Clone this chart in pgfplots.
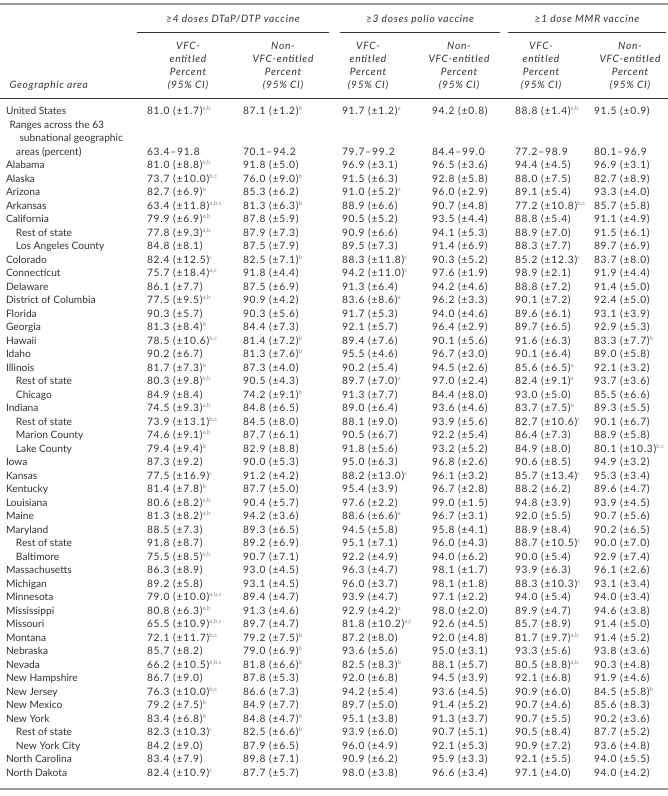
\documentclass[border=0pt]{standalone}
\usepackage{fontspec}
\setmainfont{Lato}
\newfontfamily\valfont{Lato}[LetterSpace=8]
\newfontfamily\hdfont{Lato}[LetterSpace=7]
\usepackage{pgfplots}
\usepackage{pgfplotstable}
\pgfplotsset{compat=1.18}
\definecolor{rulegray}{gray}{0.6}
\definecolor{txt}{gray}{0.2}
\protected\def\su#1{\raisebox{3.6pt}{\rmfamily\fontsize{6.2}{6}\selectfont\textcolor{black!45}{#1}}}
\newcommand\hf{\fontsize{10.2}{12}\selectfont}
\newcommand\vf{\valfont\fontsize{10.2}{12}\selectfont}
\newcommand\hdf{\hdfont\fontsize{10.2}{12}\selectfont\itshape}

\pgfplotstableread[col sep=semicolon]{
y;ind;lab;c1;c2;c3;c4;c5;c6
111;0;United States;{81.0 (±1.7)\su{a,b}};{87.1 (±1.2)\su{b}};{91.7 (±1.2)\su{a}};{94.2 (±0.8)};{88.8 (±1.4)\su{a,b}};{91.5 (±0.9)}
151.5;1;areas (percent);{63.4–91.8};{70.1–94.2};{79.7–99.2};{84.4–99.0};{77.2–98.9};{80.1–96.9}
}\toptab

\pgfplotstableread[col sep=semicolon]{
ind;lab;c1;c2;c3;c4;c5;c6
0;Alabama;{81.0 (±8.8)\su{a,b}};{91.8 (±5.0)};{96.9 (±3.1)};{96.5 (±3.6)};{94.4 (±4.5)};{96.9 (±3.1)}
0;Alaska;{73.7 (±10.0)\su{b,c}};{76.0 (±9.0)\su{b}};{91.5 (±6.3)};{92.8 (±5.8)};{88.0 (±7.5)};{82.7 (±8.9)}
0;Arizona;{82.7 (±6.9)\su{b}};{85.3 (±6.2)};{91.0 (±5.2)\su{a}};{96.0 (±2.9)};{89.1 (±5.4)};{93.3 (±4.0)}
0;Arkansas;{63.4 (±11.8)\su{a,b,c}};{81.3 (±6.3)\su{b}};{88.9 (±6.6)};{90.7 (±4.8)};{77.2 (±10.8)\su{b,c}};{85.7 (±5.8)}
0;California;{79.9 (±6.9)\su{a,b}};{87.8 (±5.9)};{90.5 (±5.2)};{93.5 (±4.4)};{88.8 (±5.4)};{91.1 (±4.9)}
1;Rest of state;{77.8 (±9.3)\su{a,b}};{87.9 (±7.3)};{90.9 (±6.6)};{94.1 (±5.3)};{88.9 (±7.0)};{91.5 (±6.1)}
1;Los Angeles County;{84.8 (±8.1)};{87.5 (±7.9)};{89.5 (±7.3)};{91.4 (±6.9)};{88.3 (±7.7)};{89.7 (±6.9)}
0;Colorado;{82.4 (±12.5)\su{c}};{82.5 (±7.1)\su{b}};{88.3 (±11.8)\su{c}};{90.3 (±5.2)};{85.2 (±12.3)\su{c}};{83.7 (±8.0)}
0;Connecticut;{75.7 (±18.4)\su{a,c}};{91.8 (±4.4)};{94.2 (±11.0)\su{c}};{97.6 (±1.9)};{98.9 (±2.1)};{91.9 (±4.4)}
0;Delaware;{86.1 (±7.7)};{87.5 (±6.9)};{91.3 (±6.4)};{94.2 (±4.6)};{88.8 (±7.2)};{91.4 (±5.0)}
0;District of Columbia;{77.5 (±9.5)\su{a,b}};{90.9 (±4.2)};{83.6 (±8.6)\su{a}};{96.2 (±3.3)};{90.1 (±7.2)};{92.4 (±5.0)}
0;Florida;{90.3 (±5.7)};{90.3 (±5.6)};{91.7 (±5.3)};{94.0 (±4.6)};{89.6 (±6.1)};{93.1 (±3.9)}
0;Georgia;{81.3 (±8.4)\su{b}};{84.4 (±7.3)};{92.1 (±5.7)};{96.4 (±2.9)};{89.7 (±6.5)};{92.9 (±5.3)}
0;Hawaii;{78.5 (±10.6)\su{b,c}};{81.4 (±7.2)\su{b}};{89.4 (±7.6)};{90.1 (±5.6)};{91.6 (±6.3)};{83.3 (±7.7)\su{b}}
0;Idaho;{90.2 (±6.7)};{81.3 (±7.6)\su{b}};{95.5 (±4.6)};{96.7 (±3.0)};{90.1 (±6.4)};{89.0 (±5.8)}
0;Illinois;{81.7 (±7.3)\su{b}};{87.3 (±4.0)};{90.2 (±5.4)};{94.5 (±2.6)};{85.6 (±6.5)\su{a}};{92.1 (±3.2)}
1;Rest of state;{80.3 (±9.8)\su{a,b}};{90.5 (±4.3)};{89.7 (±7.0)\su{a}};{97.0 (±2.4)};{82.4 (±9.1)\su{a}};{93.7 (±3.6)}
1;Chicago;{84.9 (±8.4)};{74.2 (±9.1)\su{b}};{91.3 (±7.7)};{84.4 (±8.0)};{93.0 (±5.0)};{85.5 (±6.6)}
0;Indiana;{74.5 (±9.3)\su{a,b}};{84.8 (±6.5)};{89.0 (±6.4)};{93.6 (±4.6)};{83.7 (±7.5)\su{b}};{89.3 (±5.5)}
1;Rest of state;{73.9 (±13.1)\su{b,c}};{84.5 (±8.0)};{88.1 (±9.0)};{93.9 (±5.6)};{82.7 (±10.6)\su{c}};{90.1 (±6.7)}
1;Marion County;{74.6 (±9.1)\su{a,b}};{87.7 (±6.1)};{90.5 (±6.7)};{92.2 (±5.4)};{86.4 (±7.3)};{88.9 (±5.8)}
1;Lake County;{79.4 (±9.4)\su{b}};{82.9 (±8.8)};{91.8 (±5.6)};{93.2 (±5.2)};{84.9 (±8.0)};{80.1 (±10.3)\su{b,c}}
0;Iowa;{87.3 (±9.2)};{90.0 (±5.3)};{95.0 (±6.3)};{96.8 (±2.6)};{90.6 (±8.5)};{94.9 (±3.2)}
0;Kansas;{77.5 (±16.9)\su{c}};{91.2 (±4.2)};{88.2 (±13.0)\su{c}};{96.1 (±3.2)};{85.7 (±13.4)\su{c}};{95.3 (±3.4)}
0;Kentucky;{81.4 (±7.8)\su{b}};{87.7 (±5.0)};{95.4 (±3.9)};{96.7 (±2.8)};{88.2 (±6.2)};{89.6 (±4.7)}
0;Louisiana;{80.6 (±8.2)\su{a,b}};{90.4 (±5.7)};{97.6 (±2.2)};{99.0 (±1.5)};{94.8 (±3.9)};{93.9 (±4.5)}
0;Maine;{81.3 (±8.2)\su{a,b}};{94.2 (±3.6)};{88.6 (±6.6)\su{a}};{96.7 (±3.1)};{92.0 (±5.5)};{90.7 (±5.6)}
0;Maryland;{88.5 (±7.3)};{89.3 (±6.5)};{94.5 (±5.8)};{95.8 (±4.1)};{88.9 (±8.4)};{90.2 (±6.5)}
1;Rest of state;{91.8 (±8.7)};{89.2 (±6.9)};{95.1 (±7.1)};{96.0 (±4.3)};{88.7 (±10.5)\su{c}};{90.0 (±7.0)}
1;Baltimore;{75.5 (±8.5)\su{a,b}};{90.7 (±7.1)};{92.2 (±4.9)};{94.0 (±6.2)};{90.0 (±5.4)};{92.9 (±7.4)}
0;Massachusetts;{86.3 (±8.9)};{93.0 (±4.5)};{96.3 (±4.7)};{98.1 (±1.7)};{93.9 (±6.3)};{96.1 (±2.6)}
0;Michigan;{89.2 (±5.8)};{93.1 (±4.5)};{96.0 (±3.7)};{98.1 (±1.8)};{88.3 (±10.3)\su{c}};{93.1 (±3.4)}
0;Minnesota;{79.0 (±10.0)\su{a,b,c}};{89.4 (±4.7)};{93.9 (±4.7)};{97.1 (±2.2)};{94.0 (±5.4)};{94.0 (±3.4)}
0;Mississippi;{80.8 (±6.3)\su{a,b}};{91.3 (±4.6)};{92.9 (±4.2)\su{a}};{98.0 (±2.0)};{89.9 (±4.7)};{94.6 (±3.8)}
0;Missouri;{65.5 (±10.9)\su{a,b,c}};{89.7 (±4.7)};{81.8 (±10.2)\su{a,c}};{92.6 (±4.5)};{85.7 (±8.9)};{91.4 (±5.0)}
0;Montana;{72.1 (±11.7)\su{b,c}};{79.2 (±7.5)\su{b}};{87.2 (±8.0)};{92.0 (±4.8)};{81.7 (±9.7)\su{a,b}};{91.4 (±5.2)}
0;Nebraska;{85.7 (±8.2)};{79.0 (±6.9)\su{b}};{93.6 (±5.6)};{95.0 (±3.1)};{93.3 (±5.6)};{93.8 (±3.6)}
0;Nevada;{66.2 (±10.5)\su{a,b,c}};{81.8 (±6.6)\su{b}};{82.5 (±8.3)\su{b}};{88.1 (±5.7)};{80.5 (±8.8)\su{a,b}};{90.3 (±4.8)}
0;New Hampshire;{86.7 (±9.0)};{87.8 (±5.3)};{92.0 (±6.8)};{94.5 (±3.9)};{92.1 (±6.8)};{91.9 (±4.6)}
0;New Jersey;{76.3 (±10.0)\su{b,c}};{86.6 (±7.3)};{94.2 (±5.4)};{93.6 (±4.5)};{90.9 (±6.0)};{84.5 (±5.8)\su{b}}
0;New Mexico;{79.2 (±7.5)\su{b}};{84.9 (±7.7)};{89.7 (±5.0)};{91.4 (±5.2)};{90.7 (±4.6)};{85.6 (±8.3)}
0;New York;{83.4 (±6.8)\su{b}};{84.8 (±4.7)\su{b}};{95.1 (±3.8)};{91.3 (±3.7)};{90.7 (±5.5)};{90.2 (±3.6)}
1;Rest of state;{82.3 (±10.3)\su{c}};{82.5 (±6.6)\su{b}};{93.9 (±6.0)};{90.7 (±5.1)};{90.5 (±8.4)};{87.7 (±5.2)}
1;New York City;{84.2 (±9.0)};{87.9 (±6.5)};{96.0 (±4.9)};{92.1 (±5.3)};{90.9 (±7.2)};{93.6 (±4.8)}
0;North Carolina;{83.4 (±7.9)};{89.8 (±7.1)};{90.9 (±6.2)};{95.9 (±3.3)};{92.1 (±5.5)};{94.0 (±5.5)}
0;North Dakota;{82.4 (±10.9)\su{c}};{87.7 (±5.7)};{98.0 (±3.8)};{96.6 (±3.4)};{97.1 (±4.0)};{94.0 (±4.2)}
}\maintab

\newcommand\ystart{165}
\newcommand\ystep{13.5}
\newcommand\colhead[3]{%
  \node[anchor=base, text=txt, font=\hdf] at (axis cs:#1,49) {#2};
  \node[anchor=base, text=txt, font=\hdf] at (axis cs:#1,62) {#3};
  \node[anchor=base, text=txt, font=\hdf] at (axis cs:#1,75) {Percent};
  \node[anchor=base, text=txt, font=\hdf] at (axis cs:#1,88) {(95\% CI)};
}

\begin{document}
\begin{tikzpicture}
\begin{axis}[
  scale only axis, width=668pt, height=796pt,
  xmin=0, xmax=668, ymin=0, ymax=796, y dir=reverse,
  axis lines=none, clip=false,
  every node near coord/.style={anchor=base west, inner sep=0pt, outer sep=0pt,
     font=\vf, text=txt},
  txtplot/.style={draw=none, mark=none, nodes near coords, point meta=explicit symbolic},
  labplot/.style={draw=none, mark=none, nodes near coords, point meta=explicit symbolic,
     every node near coord/.append style={font=\hf}},
  font=\hf,
]
% rules
\draw[rulegray, line width=1.6pt] (axis cs:0,4) -- (axis cs:668,4);
\draw[rulegray, line width=2.2pt] (axis cs:0,789) -- (axis cs:668,789);
\draw[txt, line width=0.45pt] (axis cs:137,32) -- (axis cs:329,32);
\draw[txt, line width=0.45pt] (axis cs:340,32) -- (axis cs:500,32);
\draw[txt, line width=0.45pt] (axis cs:508,32) -- (axis cs:666,32);
\draw[txt, line width=0.45pt] (axis cs:0,98) -- (axis cs:668,98);
% headers
\node[anchor=base, text=txt, font=\hdf] at (axis cs:233,22.5) {≥4 doses DTaP/DTP vaccine};
\node[anchor=base, text=txt, font=\hdf] at (axis cs:420,22.5) {≥3 doses polio vaccine};
\node[anchor=base, text=txt, font=\hdf] at (axis cs:587,22.5) {≥1 dose MMR vaccine};
\colhead{188}{VFC-}{entitled}
\colhead{283}{Non-}{VFC-entitled}
\colhead{368}{VFC-}{entitled}
\colhead{459}{Non-}{VFC-entitled}
\colhead{541}{VFC-}{entitled}
\colhead{630}{Non-}{VFC-entitled}
\node[anchor=base west, text=txt, font=\hdf] at (axis cs:6,88) {Geographic area};
\node[anchor=base west, text=txt, font=\hf] at (axis cs:6,128) {Ranges across the 63};
\node[anchor=base west, text=txt, font=\hf] at (axis cs:16,141.5) {subnational geographic};
% top rows
\addplot[labplot] table[x expr={6+10*\thisrow{ind}}, y expr={\thisrow{y}+3.5}, meta=lab] {\toptab};
\addplot[txtplot] table[x expr=147, y expr={\thisrow{y}+3.5}, meta=c1] {\toptab};
\addplot[txtplot] table[x expr=243, y expr={\thisrow{y}+3.5}, meta=c2] {\toptab};
\addplot[txtplot] table[x expr=342, y expr={\thisrow{y}+3.5}, meta=c3] {\toptab};
\addplot[txtplot] table[x expr=432, y expr={\thisrow{y}+3.5}, meta=c4] {\toptab};
\addplot[txtplot] table[x expr=515, y expr={\thisrow{y}+3.5}, meta=c5] {\toptab};
\addplot[txtplot] table[x expr=594, y expr={\thisrow{y}+3.5}, meta=c6] {\toptab};
% main rows
\addplot[labplot] table[x expr={6+10*\thisrow{ind}}, y expr={\ystart+3.5+\ystep*\coordindex}, meta=lab] {\maintab};
\addplot[txtplot] table[x expr=147, y expr={\ystart+3.5+\ystep*\coordindex}, meta=c1] {\maintab};
\addplot[txtplot] table[x expr=243, y expr={\ystart+3.5+\ystep*\coordindex}, meta=c2] {\maintab};
\addplot[txtplot] table[x expr=342, y expr={\ystart+3.5+\ystep*\coordindex}, meta=c3] {\maintab};
\addplot[txtplot] table[x expr=432, y expr={\ystart+3.5+\ystep*\coordindex}, meta=c4] {\maintab};
\addplot[txtplot] table[x expr=515, y expr={\ystart+3.5+\ystep*\coordindex}, meta=c5] {\maintab};
\addplot[txtplot] table[x expr=594, y expr={\ystart+3.5+\ystep*\coordindex}, meta=c6] {\maintab};
\end{axis}
\pgfresetboundingbox
\path (0,0) rectangle (668pt,796pt);
\end{tikzpicture}
\end{document}
